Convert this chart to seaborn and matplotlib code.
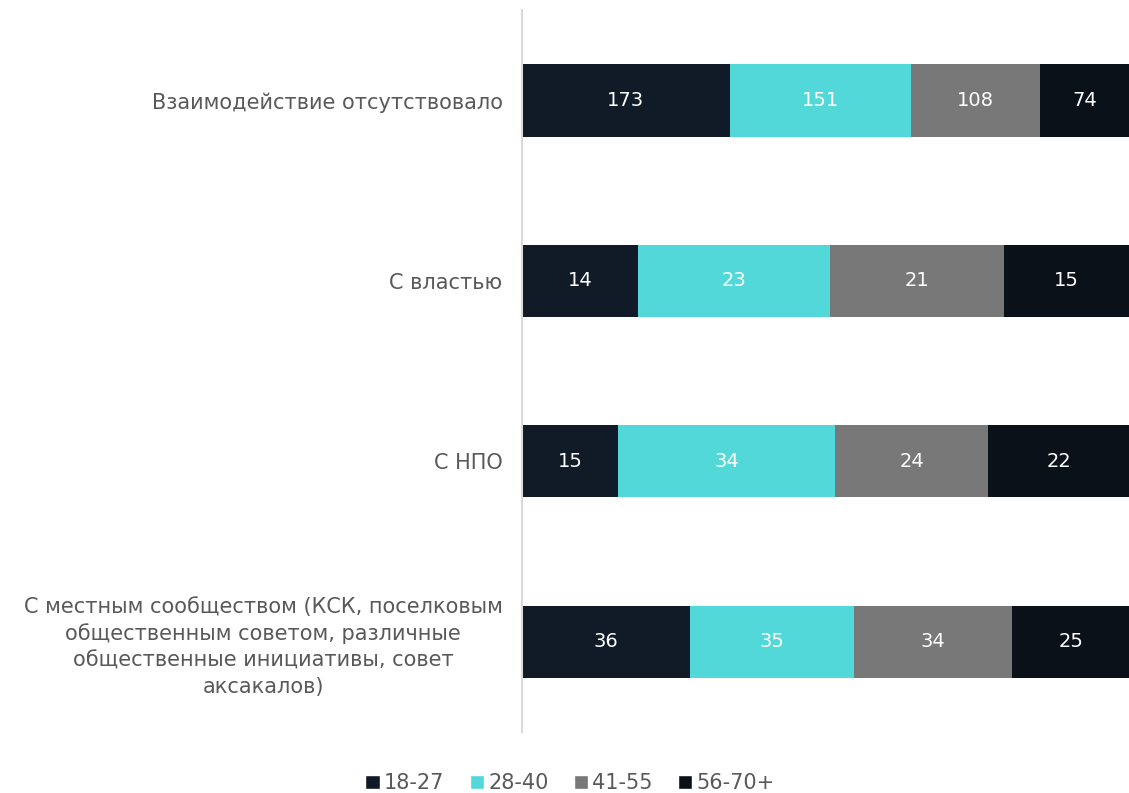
import matplotlib
matplotlib.use("Agg")
import matplotlib.pyplot as plt
import seaborn as sns
import pandas as pd
import numpy as np
from matplotlib.patches import Patch

categories = [
    "Взаимодействие отсутствовало",
    "С властью",
    "С НПО",
    "С местным сообществом (КСК, поселковым\nобщественным советом, различные\nобщественные инициативы, совет\nаксакалов)",
]
age_groups = ["18-27", "28-40", "41-55", "56-70+"]
v_18_27 = [173, 14, 15, 36]
v_28_40 = [151, 23, 34, 35]
v_41_55 = [108, 21, 24, 34]
v_56_70 = [74, 15, 22, 25]
colors = ["#111b27", "#52d8d8", "#787878", "#0b1119"]

sns.set_theme(style="white")
plt.rcParams["font.family"] = ["DejaVu Sans"]

vals = np.array([v_18_27, v_28_40, v_41_55, v_56_70], dtype=float)
shares = vals / vals.sum(axis=0)
cum = shares.cumsum(axis=0)

fig = plt.figure(figsize=(11.29, 7.93), dpi=100)
ax = fig.add_axes([0.4624, 0.077, 0.5376, 0.91])

# draw cumulative bars from the last group back to the first
for i in range(len(age_groups) - 1, -1, -1):
    df = pd.DataFrame({"cat": categories, "val": cum[i]})
    sns.barplot(data=df, y="cat", x="val", color=colors[i], width=0.4,
                saturation=1, ax=ax, orient="h", linewidth=0)

for i in range(len(age_groups)):
    start = cum[i] - shares[i]
    for j in range(len(categories)):
        ax.text(start[j] + shares[i][j] / 2, j, f"{int(vals[i][j])}",
                ha="center", va="center", color="white", fontsize=14)

ax.set_xlim(0, 1)
ax.set_ylim(3.5, -0.5)
ax.set_xlabel("")
ax.set_ylabel("")
ax.set_xticks([])
ax.tick_params(axis="y", length=0, pad=14, labelsize=15, labelcolor="#595959")
for lbl in ax.get_yticklabels():
    lbl.set_horizontalalignment("right")
    lbl.set_multialignment("center")
    lbl.set_linespacing(1.4)
for s in ["top", "right", "bottom"]:
    ax.spines[s].set_visible(False)
ax.spines["left"].set_color("#d9d9d9")
ax.spines["left"].set_linewidth(1.5)

handles = [Patch(facecolor=c, label=g) for c, g in zip(colors, age_groups)]
fig.legend(handles=handles, loc="center", bbox_to_anchor=(0.505, 0.012),
           ncol=4, frameon=False, fontsize=15, handlelength=0.7,
           handleheight=0.7, handletextpad=0.2, columnspacing=1.2,
           labelcolor="#595959")

fig.savefig("out.png", dpi=100)
